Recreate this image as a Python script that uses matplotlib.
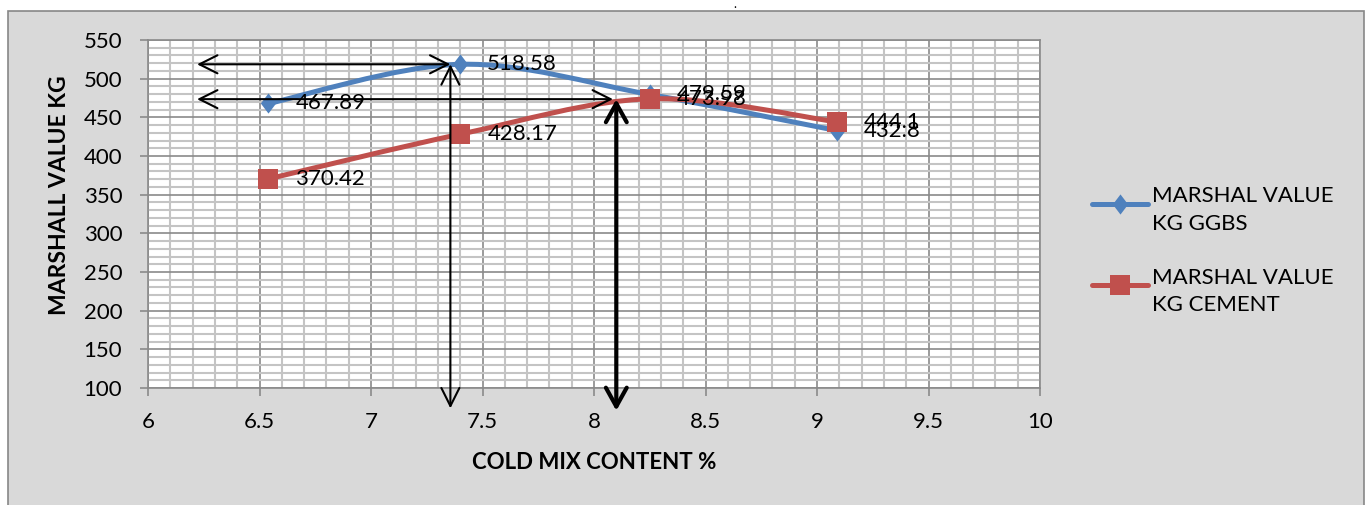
import numpy as np
import matplotlib
matplotlib.use("Agg")
import matplotlib.pyplot as plt
from matplotlib.path import Path
from matplotlib.patches import PathPatch, Rectangle
from matplotlib.lines import Line2D
from matplotlib.ticker import MultipleLocator

plt.rcParams['font.family'] = ['Lato', 'DejaVu Sans']

# Data
cold_mix_content = [6.54, 7.40, 8.25, 9.09]
marshal_ggbs = [467.89, 518.58, 479.59, 432.8]
marshal_cement = [370.42, 428.17, 473.98, 444.1]
series_names = ["MARSHAL VALUE\nKG GGBS", "MARSHAL VALUE\nKG CEMENT"]

W, H = 1370, 505
fig = plt.figure(figsize=(W / 100, H / 100), dpi=100)
fig.patch.set_facecolor("white")


def fx(px):
    return px / W


def fy(py):
    return 1 - py / H


# Chart area background with border (runs off the bottom edge)
fig.add_artist(Rectangle((fx(8), -0.05), fx(1364) - fx(8), fy(10.5) + 0.05,
                         transform=fig.transFigure, facecolor="#d9d9d9",
                         edgecolor="#878787", lw=1.2, zorder=0))
fig.text(fx(735), fy(4), ".", ha="center", va="center", fontsize=9, color="black")

ax = fig.add_axes([fx(148), fy(388), fx(1040) - fx(148), fy(40) - fy(388)])
ax.set_facecolor("white")
ax.set_xlim(6, 10)
ax.set_ylim(100, 550)
ax.xaxis.set_major_locator(MultipleLocator(0.5))
ax.xaxis.set_minor_locator(MultipleLocator(0.1))
ax.yaxis.set_major_locator(MultipleLocator(50))
ax.yaxis.set_minor_locator(MultipleLocator(10))
ax.set_xticks(np.arange(6, 10.01, 0.5))
ax.set_xticklabels(["6", "6.5", "7", "7.5", "8", "8.5", "9", "9.5", "10"])
ax.grid(which="minor", color="#c4c4c4", lw=1.5, zorder=0)
ax.grid(which="major", color="#8a8a8a", lw=1.2, zorder=0.5)
ax.set_axisbelow(True)
for s in ax.spines.values():
    s.set_color("#8a8a8a")
    s.set_linewidth(1.2)
ax.tick_params(which="major", length=5.5, width=1.2, color="#8a8a8a", labelsize=16, pad=12)
ax.tick_params(axis="y", pad=13)
ax.tick_params(which="minor", length=0)

ax.set_xlabel("COLD MIX CONTENT %", fontsize=16, fontweight="bold", labelpad=14)
fig.text(fx(59), fy(195), "MARSHALL VALUE KG", rotation=90, fontsize=16.5, fontweight="bold",
         ha="center", va="center")


def smooth_path(xs, ys):
    pts = np.column_stack([xs, ys]).astype(float)
    n = len(pts)
    verts = [pts[0]]
    codes = [Path.MOVETO]
    for i in range(n - 1):
        p0 = pts[i - 1] if i > 0 else pts[i]
        p1 = pts[i]
        p2 = pts[i + 1]
        p3 = pts[i + 2] if i + 2 < n else pts[i + 1]
        verts += [p1 + (p2 - p0) / 6, p2 - (p3 - p1) / 6, p2]
        codes += [Path.CURVE4] * 3
    return Path(verts, codes)


diamond = Path([(0, 1), (0.76, 0), (0, -1), (-0.76, 0), (0, 1)],
               [Path.MOVETO, Path.LINETO, Path.LINETO, Path.LINETO, Path.CLOSEPOLY])

blue = "#4f81bd"
red = "#c0504d"
styles = [
    (marshal_ggbs, blue, diamond, 14.5, 3),
    (marshal_cement, red, "s", 14, 4),
]
for vals, col, mk, ms, z in styles:
    ax.add_patch(PathPatch(smooth_path(cold_mix_content, vals), facecolor="none", edgecolor=col,
                           lw=3.6, capstyle="round", joinstyle="round", zorder=z))
    ax.plot(cold_mix_content, vals, linestyle="none", marker=mk, ms=ms, color=col,
            markeredgewidth=0, zorder=z + 0.1)
    for xv, yv in zip(cold_mix_content, vals):
        ax.annotate(f"{yv:g}", (xv, yv), xytext=(19.5, 0), textcoords="offset points",
                    ha="left", va="center", fontsize=16, color="black", zorder=6)

# Reading arrows
peak_y = 518.58
cross_y = 473.5
left_x = 6.22
arrows = [
    ((left_x, peak_y), (7.356, peak_y), 1.5, 13, 6.5),
    ((left_x, cross_y), (8.085, cross_y), 1.5, 13, 6.5),
    ((7.356, peak_y), (7.356, 73.7), 1.5, 13, 6.5),
    ((8.10, cross_y), (8.10, 70.6), 3.0, 13.5, 7.5),
]
for start, end, lw, hl, hw in arrows:
    ax.annotate("", xy=end, xytext=start, annotation_clip=False,
                arrowprops=dict(arrowstyle=f"<->,head_length={hl / 10},head_width={hw / 10}",
                                mutation_scale=10, lw=lw, color="black",
                                shrinkA=0, shrinkB=0), zorder=7)

# Legend
leg_y = [203.5, 284.5]
for (vals, col, mk, ms, z), ly, name in zip(styles, leg_y, series_names):
    fig.add_artist(Line2D([fx(1092), fx(1120), fx(1148)], [fy(ly)] * 3, transform=fig.transFigure,
                          color=col, lw=3.6, marker=mk, ms=ms, markevery=[1],
                          markeredgewidth=0, solid_capstyle="round"))
    fig.text(fx(1152), fy(ly - 17), name, ha="left", va="top", fontsize=16,
             linespacing=1.45, color="black")

fig.savefig("out.png", dpi=100, facecolor=fig.get_facecolor())
